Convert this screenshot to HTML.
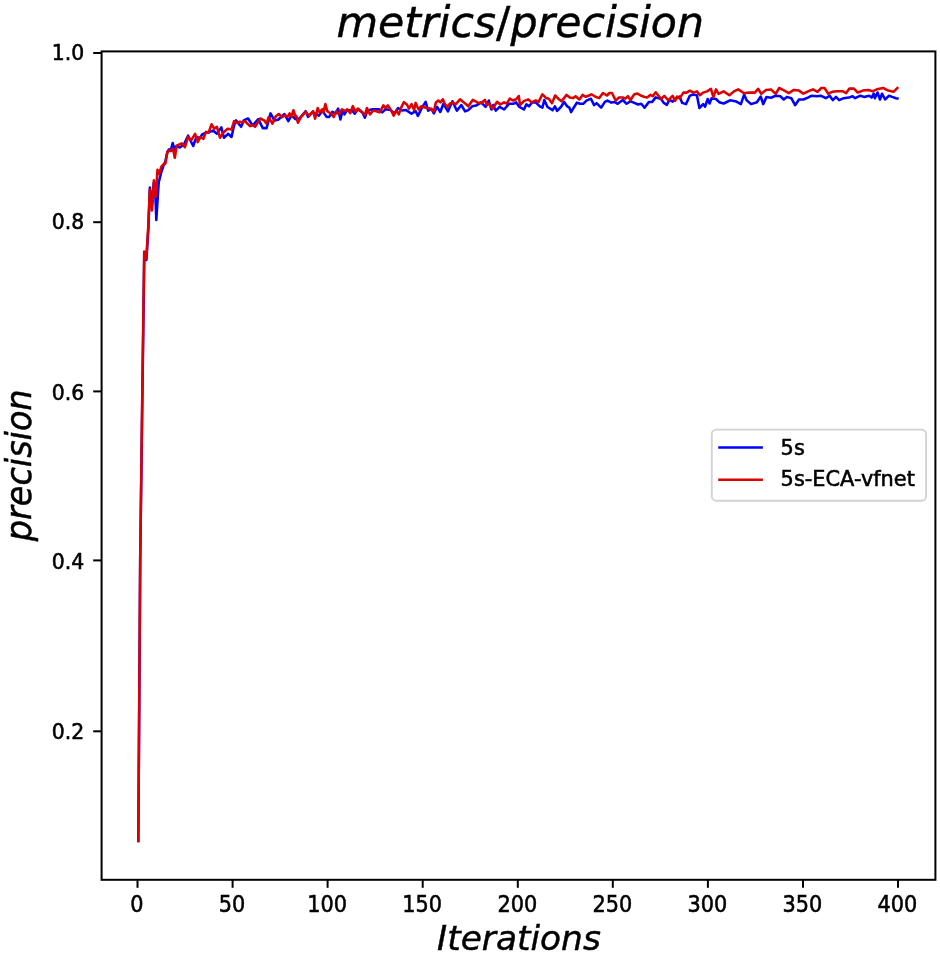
<!DOCTYPE html>
<html lang="en"><head><meta charset="utf-8"><title>metrics/precision</title>
<style>html,body{margin:0;padding:0;background:#fff}body{width:940px;height:955px;overflow:hidden}svg text{white-space:pre}</style>
</head><body>
<svg width="940" height="955" viewBox="0 0 940 955" style="display:block;filter:blur(0.45px)">
<rect width="940" height="955" fill="#fff"/>
<g fill="none" stroke-linejoin="round" stroke-linecap="square" stroke-width="2.55">
<polyline stroke="#0000ff" points="138.3,841.0 140.2,560.0 142.3,400.0 144.3,254.0 146.4,260.0 148.4,228.0 149.9,187.5 152.0,205.0 153.7,183.0 155.3,193.0 156.3,220.0 158.7,182.5 161.4,171.8 163.8,164.5 165.4,161.4 167.3,152.0 169.0,149.4 170.8,150.0 172.7,143.1 174.5,149.0 176.6,146.0 179.8,147.5 183.7,144.7 188.1,135.7 193.2,146.0 196.4,137.0 199.6,138.3 202.2,134.5 206.0,132.6 209.8,131.9 213.0,130.6 216.9,133.8 221.3,127.4 223.9,137.7 228.3,133.8 231.5,137.0 234.1,125.5 236.0,120.4 241.1,126.8 243.7,120.4 248.1,118.5 252.6,125.5 258.3,119.1 262.8,128.1 266.6,128.1 270.5,113.4 274.3,120.4 278.1,119.8 284.5,114.0 288.3,121.1 291.5,115.3 295.4,119.1 296.0,116.9 298.6,119.5 305.6,111.2 308.1,116.9 312.6,112.4 319.0,115.6 322.2,110.5 326.6,116.9 329.2,116.9 332.4,111.8 335.6,113.7 338.1,108.6 340.4,119.5 342.6,110.5 344.5,114.4 347.1,109.9 352.2,110.5 354.7,113.7 357.9,109.3 362.4,112.4 364.9,117.6 367.5,110.5 372.6,109.3 379.0,109.3 382.2,112.4 385.4,109.3 390.5,109.9 394.3,113.7 398.1,108.0 402.0,110.5 405.8,109.9 411.5,113.7 415.7,111.2 417.9,115.9 421.7,108.2 425.6,101.8 428.1,110.7 431.3,108.8 433.9,113.3 437.1,106.9 440.3,112.0 443.4,103.7 447.9,111.4 452.4,101.2 456.9,110.7 461.3,105.0 465.1,111.4 468.3,110.1 472.2,106.3 476.0,105.6 481.1,102.4 485.6,106.9 488.8,100.5 491.3,109.5 493.2,105.0 495.8,110.7 499.6,106.9 504.1,109.5 509.2,103.7 513.7,103.7 516.2,102.4 519.4,106.9 523.9,109.5 526.4,104.4 529.0,106.3 532.2,102.4 535.7,102.4 539.8,106.4 542.4,107.7 544.3,100.0 547.5,107.0 552.6,110.2 554.9,106.4 557.1,110.9 560.9,107.0 564.1,101.9 567.3,106.4 569.4,107.7 571.1,112.1 573.7,107.7 576.9,102.6 580.0,103.8 583.2,103.8 586.4,100.6 590.9,98.7 594.1,105.1 596.6,103.2 601.1,107.7 604.9,101.9 607.5,100.6 611.3,102.6 614.5,101.9 617.7,103.8 622.8,100.0 626.6,103.8 630.5,101.3 633.7,102.6 638.1,104.5 641.3,103.8 644.5,107.7 649.0,101.9 652.2,101.9 655.7,97.4 661.1,99.0 663.7,102.9 666.9,104.8 669.4,99.7 672.6,101.6 675.1,99.0 679.6,96.5 682.2,102.9 686.0,104.1 689.8,95.8 692.4,94.6 696.9,95.2 699.4,108.0 703.2,104.1 705.1,106.7 707.7,99.0 709.6,103.5 711.5,98.4 716.0,99.0 719.2,102.2 723.7,103.5 730.0,100.3 736.4,101.6 740.9,104.1 744.1,94.6 746.6,100.3 751.1,104.1 756.9,102.2 760.7,96.5 763.2,104.1 766.4,97.1 770.9,97.7 775.7,95.8 780.5,96.3 783.7,99.5 786.9,96.9 791.3,98.2 795.1,105.2 799.0,99.5 803.4,99.5 807.9,97.6 811.7,95.7 816.9,96.3 820.7,95.7 825.8,98.2 829.6,95.7 832.8,100.1 836.0,96.9 839.2,100.1 843.7,98.2 848.8,97.6 852.6,96.3 855.1,98.2 860.3,95.7 864.1,96.9 869.2,95.7 871.7,97.6 873.7,93.7 874.9,98.2 877.5,92.5 880.0,99.5 882.0,93.7 885.1,99.5 889.0,95.7 892.2,96.9 896.0,98.2 897.4,98.5"/>
<polyline stroke="#dc0000" points="138.3,841.0 140.2,560.0 142.2,400.0 144.2,251.5 146.3,258.5 148.3,226.0 149.8,189.6 152.0,210.5 153.9,180.2 155.8,196.9 157.5,169.7 159.1,173.9 161.4,166.6 163.3,164.5 165.4,163.5 167.3,152.5 169.0,150.4 171.1,150.9 172.9,148.3 174.8,157.7 176.7,145.7 181.7,143.4 184.9,147.2 188.1,137.0 191.3,140.2 195.1,133.8 197.7,142.1 200.3,137.0 203.4,138.9 206.0,131.9 208.6,132.6 211.5,124.3 214.3,128.7 216.9,126.8 220.0,137.7 223.9,131.9 227.7,128.7 231.5,129.4 234.1,121.1 237.3,123.0 239.8,121.7 242.4,122.3 244.9,121.1 250.0,126.2 252.6,124.9 255.1,126.8 260.3,118.5 264.1,120.4 266.6,123.6 268.6,117.2 272.4,123.6 275.6,116.6 278.8,114.0 282.0,117.2 285.1,115.3 287.7,116.6 289.6,113.4 291.5,116.6 293.4,110.2 295.4,116.3 296.0,115.6 297.9,122.7 301.1,116.9 305.6,111.8 308.8,115.6 313.2,111.2 315.1,118.8 317.7,108.0 319.6,112.4 322.2,109.3 323.4,112.4 325.4,104.1 327.3,111.2 331.1,113.7 333.7,116.9 336.2,111.2 338.8,114.4 342.0,109.3 345.1,111.2 347.1,109.3 350.3,113.1 352.8,106.1 355.4,111.8 357.9,108.6 361.7,111.8 364.9,115.0 366.9,108.0 370.0,114.4 373.2,110.5 376.4,111.2 379.6,112.4 383.4,105.4 385.4,108.0 387.9,105.4 391.1,110.5 393.7,115.6 396.2,110.5 398.8,114.4 401.3,107.3 403.9,102.2 407.1,104.8 409.0,108.6 411.5,104.1 414.1,109.9 415.7,102.9 418.6,109.5 421.1,106.3 424.9,107.6 428.8,108.2 432.0,109.5 433.9,111.4 435.8,102.4 438.3,100.5 440.3,102.4 442.8,99.3 444.7,103.7 447.3,106.9 449.8,103.7 453.0,102.4 455.6,104.4 460.0,99.3 463.9,102.4 468.3,106.3 472.8,99.9 477.3,102.4 481.1,103.1 484.9,99.9 486.9,105.0 489.4,103.7 492.6,108.8 497.1,101.8 500.3,104.4 504.1,102.4 506.6,103.7 509.8,98.6 513.0,100.5 516.2,99.3 518.8,96.1 520.0,105.0 523.9,101.2 528.3,99.3 531.5,102.4 535.7,100.5 538.6,101.9 542.4,94.3 546.2,98.1 548.8,98.7 552.0,103.2 555.1,95.5 558.3,98.7 561.5,101.3 566.6,94.9 569.8,97.4 573.0,98.1 575.6,96.2 579.4,99.4 582.6,94.9 585.8,96.8 589.0,95.5 591.5,94.3 595.4,96.8 599.2,98.1 603.0,93.0 606.9,95.5 609.4,93.0 612.0,93.0 615.8,100.6 619.0,97.4 622.8,97.4 625.4,98.7 627.9,96.2 630.5,100.0 634.3,94.3 637.5,93.6 640.7,95.5 643.9,96.8 647.1,97.4 650.3,94.9 652.8,96.2 655.7,92.3 661.1,99.0 664.3,95.8 668.1,100.3 672.6,95.8 675.1,100.9 677.1,96.5 679.6,98.4 683.4,92.6 686.6,92.6 689.8,90.7 693.7,92.6 696.9,91.4 700.0,95.2 703.2,92.6 707.1,91.4 710.9,88.8 713.4,97.1 716.0,89.4 718.6,93.9 723.7,91.4 729.4,95.2 733.9,91.4 738.3,89.4 744.1,93.3 749.2,92.6 754.9,92.6 758.1,88.8 761.3,93.9 765.8,90.1 770.9,89.4 775.7,93.9 779.2,88.0 783.0,89.9 788.8,93.1 793.9,89.9 799.0,90.6 803.4,93.7 808.6,91.2 813.0,89.3 817.5,91.8 821.3,88.0 824.5,88.0 828.3,93.7 832.2,91.8 837.3,91.2 842.4,91.2 846.2,93.1 849.4,88.6 853.9,88.6 857.7,92.5 862.8,90.6 867.9,89.9 873.0,91.2 876.9,89.3 883.2,88.0 888.3,90.6 893.4,91.8 896.0,89.3 897.4,88.0"/>
</g>
<rect x="101.6" y="51.4" width="833.8" height="828.4" fill="none" stroke="#000" stroke-width="2"/>
<g stroke="#000" stroke-width="2">
<line x1="137.5" y1="879.8" x2="137.5" y2="887.8"/>
<line x1="232.6" y1="879.8" x2="232.6" y2="887.8"/>
<line x1="327.6" y1="879.8" x2="327.6" y2="887.8"/>
<line x1="422.7" y1="879.8" x2="422.7" y2="887.8"/>
<line x1="517.8" y1="879.8" x2="517.8" y2="887.8"/>
<line x1="612.8" y1="879.8" x2="612.8" y2="887.8"/>
<line x1="707.9" y1="879.8" x2="707.9" y2="887.8"/>
<line x1="803.0" y1="879.8" x2="803.0" y2="887.8"/>
<line x1="898.0" y1="879.8" x2="898.0" y2="887.8"/>
<line x1="101.6" y1="731.3" x2="93.2" y2="731.3"/>
<line x1="101.6" y1="560.4" x2="93.2" y2="560.4"/>
<line x1="101.6" y1="391.4" x2="93.2" y2="391.4"/>
<line x1="101.6" y1="222.2" x2="93.2" y2="222.2"/>
<line x1="101.6" y1="53.0" x2="93.2" y2="53.0"/>
</g>
<g font-family="DejaVu Sans, Liberation Sans, sans-serif" font-size="21.5" fill="#000" stroke="#000" stroke-width="0.55">
<text transform="translate(137.0,911.7) scale(0.97,1.05)" text-anchor="middle">0</text>
<text transform="translate(232.1,911.7) scale(0.97,1.05)" text-anchor="middle">50</text>
<text transform="translate(327.1,911.7) scale(0.97,1.05)" text-anchor="middle">100</text>
<text transform="translate(422.2,911.7) scale(0.97,1.05)" text-anchor="middle">150</text>
<text transform="translate(517.3,911.7) scale(0.97,1.05)" text-anchor="middle">200</text>
<text transform="translate(612.3,911.7) scale(0.97,1.05)" text-anchor="middle">250</text>
<text transform="translate(707.4,911.7) scale(0.97,1.05)" text-anchor="middle">300</text>
<text transform="translate(802.5,911.7) scale(0.97,1.05)" text-anchor="middle">350</text>
<text transform="translate(897.5,911.7) scale(0.97,1.05)" text-anchor="middle">400</text>
<text x="84.3" y="738.8" font-size="20.4" text-anchor="end">0.2</text>
<text x="84.3" y="569.3" font-size="20.4" text-anchor="end">0.4</text>
<text x="84.3" y="399.6" font-size="20.4" text-anchor="end">0.6</text>
<text x="84.3" y="228.6" font-size="20.4" text-anchor="end">0.8</text>
<text x="84.3" y="59.8" font-size="20.4" text-anchor="end">1.0</text>
</g>
<g font-family="DejaVu Sans, Liberation Sans, sans-serif" font-style="italic" fill="#000" stroke="#000" stroke-width="0.45" text-anchor="middle">
<text transform="translate(520.2,37.1)" font-size="42.7">metrics<tspan font-style="normal">/</tspan>precision</text>
<text transform="translate(518.9,950.1)" font-size="34.4">Iterations</text>
<text transform="translate(31.4,465.3) rotate(-90) scale(1,1.06)" font-size="33.5">precision</text>
</g>
<rect x="711.8" y="429.6" width="214.3" height="71.1" rx="4.5" ry="4.5" fill="#fff" fill-opacity="0.8" stroke="#d2d2d2" stroke-width="1.9"/>
<g stroke-width="2.55" stroke-linecap="square">
<line x1="719.5" y1="447.4" x2="761.6" y2="447.4" stroke="#0000ff"/>
<line x1="719.5" y1="479.8" x2="761.6" y2="479.8" stroke="#dc0000"/>
</g>
<g font-family="DejaVu Sans, Liberation Sans, sans-serif" font-size="20.9" fill="#000" stroke="#000" stroke-width="0.55">
<text x="780.6" y="455.3">5s</text>
<text x="780.6" y="486.1">5s-ECA-vfnet</text>
</g>
</svg>
</body></html>
